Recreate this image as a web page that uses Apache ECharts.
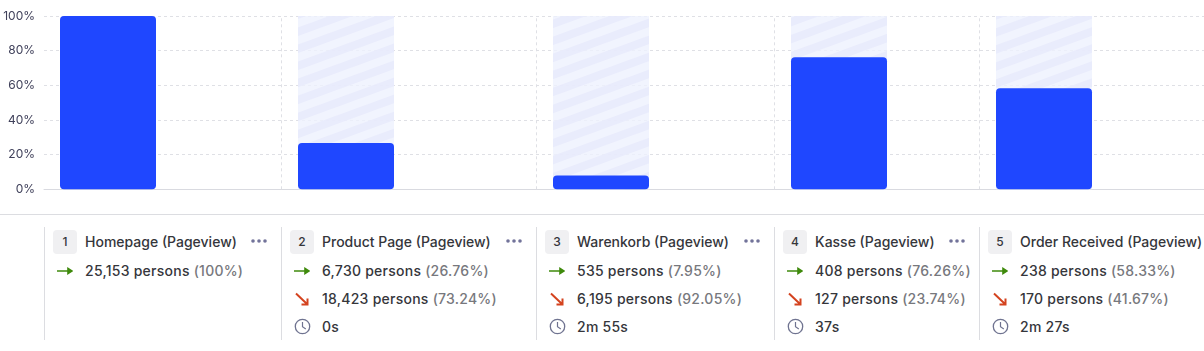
<!DOCTYPE html>
<html lang="en">

<head>
    <meta charset="UTF-8">
    <title>Funnel</title>
    <style>
        html, body {
            margin: 0;
            width: 1204px;
            height: 351px;
            overflow: hidden;
            background: #fff;
            font-family: Inter, "Noto Sans", sans-serif;
        }

        #chart {
            position: absolute;
            left: 0;
            top: 0;
            width: 1204px;
            height: 205px;
        }

        #table {
            position: absolute;
            left: 0;
            top: 214px;
            width: 1204px;
            height: 137px;
            border-top: 1px solid #dcdde1;
        }

        .col {
            position: absolute;
            top: 12px;
            height: 113px;
            border-left: 1px solid #dcdde1;
            color: #35363b;
            font-size: 14px;
            font-weight: 500;
        }

        .badge {
            position: absolute;
            left: 8px;
            top: 3px;
            width: 24px;
            height: 24px;
            border-radius: 4px;
            background: #f0f0f2;
            text-align: center;
            line-height: 24px;
            font-size: 12px;
        }

        .row {
            position: absolute;
            left: 40px;
            white-space: nowrap;
            line-height: 20px;
            letter-spacing: 0.25px;
            font-weight: 450;
        }

        .row.title {
            letter-spacing: 0;
            font-weight: 500;
        }

        .pct {
            color: #77787d;
        }

        .dots {
            position: absolute;
            right: 14px;
            top: 13px;
        }

        .col svg {
            position: absolute;
            left: 12px;
        }
    </style>
</head>

<body>
    <div id="chart"></div>
    <div id="table"></div>
    <script src="https://cdn.jsdelivr.net/npm/echarts@6/dist/echarts.min.js"></script>
    <script>
        const steps = ['Homepage (Pageview)', 'Product Page (Pageview)', 'Warenkorb (Pageview)', 'Kasse (Pageview)', 'Order Received (Pageview)'];
        const conversionPct = [100, 26.76, 7.95, 76.26, 58.33];
        const conversionCount = ['25,153', '6,730', '535', '408', '238'];
        const conversionLabel = ['100%', '26.76%', '7.95%', '76.26%', '58.33%'];
        const dropCount = [null, '18,423', '6,195', '127', '170'];
        const dropLabel = [null, '73.24%', '92.05%', '23.74%', '41.67%'];
        const stepTime = [null, '0s', '2m 55s', '37s', '2m 27s'];
        const yTicks = [0, 20, 40, 60, 80, 100];

        // layout only: left edge of each column on the page
        const colLeft = [44, 281, 536, 774, 979];
        const pageRight = 1204;
        const barOffset = 64; // column left -> bar centre

        const chart = echarts.init(document.getElementById('chart'));

        const gridDash = { color: '#dfe0e5', type: [3, 3], width: 1 };

        chart.setOption({
            animation: false,
            grid: { left: 44, right: 0, top: 16.1, height: 173.2 },
            xAxis: {
                type: 'value',
                min: colLeft[0],
                max: pageRight,
                axisLine: { show: true, onZero: false, lineStyle: { color: '#d9dae0', width: 1 } },
                axisTick: { show: false },
                axisLabel: { show: false },
                splitLine: { show: false }
            },
            yAxis: {
                type: 'value',
                min: yTicks[0],
                max: yTicks[yTicks.length - 1],
                interval: 20,
                axisLine: { show: false },
                axisTick: { show: false },
                axisLabel: {
                    formatter: '{value}%',
                    color: '#3f405a',
                    fontFamily: 'Inter',
                    fontSize: 12,
                    margin: 9
                },
                splitLine: { lineStyle: gridDash }
            },
            series: [
                {
                    type: 'bar',
                    barWidth: 96,
                    barGap: '-100%',
                    silent: true,
                    z: 1,
                    data: conversionPct.slice(1).map(function (v, i) {
                        return [colLeft[i + 1] + barOffset + 1, 100];
                    }),
                    itemStyle: {
                        color: 'rgba(238,241,254,0.8)',
                        decal: {
                            symbol: 'rect',
                            color: 'rgba(231,234,251,0.85)',
                            dashArrayX: [1, 0],
                            dashArrayY: [8, 8],
                            rotation: -0.35
                        }
                    },
                    markLine: {
                        silent: true,
                        symbol: 'none',
                        label: { show: false },
                        lineStyle: gridDash,
                        data: colLeft.slice(1).map(function (x) {
                            return { xAxis: x };
                        })
                    }
                },
                {
                    type: 'bar',
                    barWidth: 96,
                    barGap: '-100%',
                    z: 2,
                    data: conversionPct.map(function (v, i) {
                        return [colLeft[i] + barOffset + (i ? 1 : 0), v];
                    }),
                    itemStyle: { color: '#1f47ff', borderRadius: 4 }
                }
            ]
        });

        const iconFlat = '<svg style="top:{t}px" width="16" height="16" viewBox="0 0 16 16"><path d="M0 8H14M11 5.5L15 8L11 10.5Z" stroke="#3f8a0c" stroke-width="1.6" fill="#3f8a0c"/></svg>';
        const iconDrop = '<svg style="top:{t}px" width="16" height="16" viewBox="0 0 16 16"><path d="M2 2.5L12.5 12.5M7.5 13.5H13.5V7.5" stroke="#d4431f" stroke-width="2" fill="none"/></svg>';
        const iconClock = '<svg style="top:{t}px" width="17" height="17" viewBox="0 0 17 17"><circle cx="8.5" cy="8.5" r="7.2" stroke="#6f7390" stroke-width="1.3" fill="none"/><path d="M8.5 4V8.8L11.8 11" stroke="#6f7390" stroke-width="1.2" fill="none"/></svg>';
        const iconDots = '<svg class="dots" style="left:auto;top:12px" width="16" height="4" viewBox="0 0 16 4"><g fill="#72739a"><circle cx="2" cy="2" r="1.8"/><circle cx="8" cy="2" r="1.8"/><circle cx="14" cy="2" r="1.8"/></g></svg>';

        const rowTop = [34, 62, 90];

        function row(top, text) {
            return '<div class="row" style="top:' + top + 'px">' + text + '</div>';
        }

        let html = '';
        steps.forEach(function (name, i) {
            const right = i + 1 < colLeft.length ? colLeft[i + 1] : pageRight;
            let cell = '<div class="badge">' + (i + 1) + '</div>';
            cell += '<div class="row title" style="top:5px">' + name + '</div>';
            if (i < steps.length - 1) {
                cell += iconDots;
            }
            cell += iconFlat.replace('{t}', rowTop[0] + 2);
            cell += row(rowTop[0], conversionCount[i] + ' persons <span class="pct">(' + conversionLabel[i] + ')</span>');
            if (dropCount[i] !== null) {
                cell += iconDrop.replace('{t}', rowTop[1] + 2);
                cell += row(rowTop[1], dropCount[i] + ' persons <span class="pct">(' + dropLabel[i] + ')</span>');
                cell += iconClock.replace('{t}', rowTop[2] + 1);
                cell += row(rowTop[2], stepTime[i]);
            }
            html += '<div class="col" style="left:' + colLeft[i] + 'px;width:' + (right - colLeft[i] - 1) + 'px">' + cell + '</div>';
        });
        document.getElementById('table').innerHTML = html;
    </script>
</body>

</html>
